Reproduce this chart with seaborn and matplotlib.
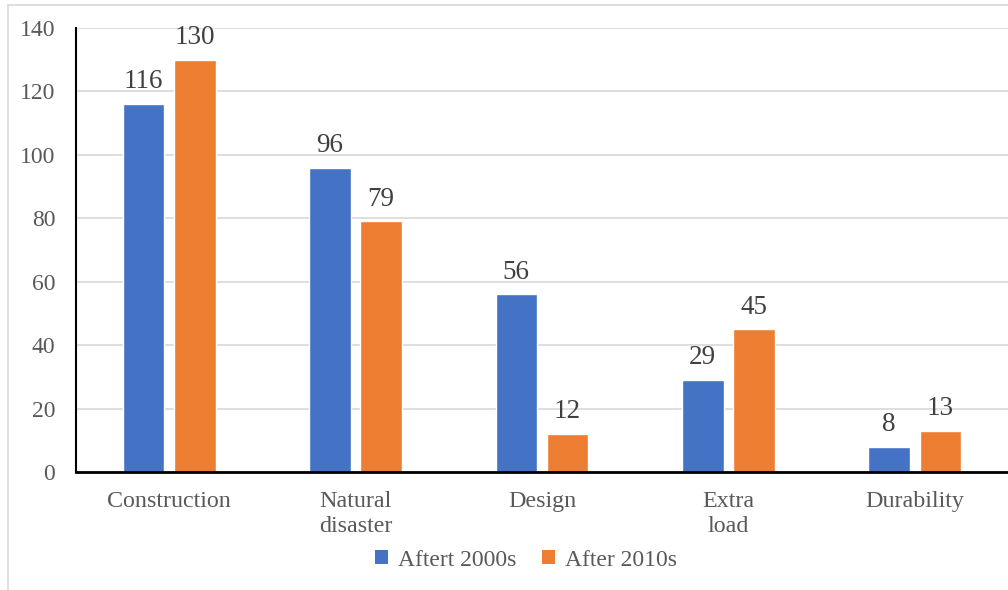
import matplotlib
matplotlib.use("Agg")
import matplotlib.pyplot as plt
import seaborn as sns
import pandas as pd
from matplotlib.lines import Line2D
from matplotlib.patches import Patch

categories = ["Construction", "Natural\ndisaster", "Design", "Extra\nload", "Durability"]
series_names = ["Aftert 2000s", "After 2010s"]
values_2000s = [116, 96, 56, 29, 8]
values_2010s = [130, 79, 12, 45, 13]
yticks = [0, 20, 40, 60, 80, 100, 120, 140]
colors = ["#4472C4", "#ED7D31"]

df = pd.DataFrame({
    "category": categories * 2,
    "series": [series_names[0]] * len(categories) + [series_names[1]] * len(categories),
    "value": values_2000s + values_2010s,
})

sns.set_theme(style="white")
plt.rcParams["font.family"] = ["Liberation Serif", "DejaVu Serif"]
text_color = "#595959"

fig = plt.figure(figsize=(10.08, 5.9), dpi=100)
ax = fig.add_axes([76 / 1008, 1 - 472 / 590, 1 - 76 / 1008, (472 - 28) / 590])

sns.barplot(data=df, x="category", y="value", hue="series", order=categories,
            hue_order=series_names, palette=colors, width=0.55, gap=0.19,
            saturation=1, ax=ax, legend=False)

for container in ax.containers:
    ax.bar_label(container, padding=7, fontsize=19.5, color="#404040")

ax.set_ylim(0, 140)
ax.set_xlim(-0.5, 4.5)
ax.set_yticks(yticks)
ax.yaxis.grid(True, color="#d9d9d9", linewidth=1.2)
ax.set_axisbelow(True)
ax.set_xlabel("")
ax.set_ylabel("")
for s in ["top", "right"]:
    ax.spines[s].set_visible(False)
ax.spines["left"].set_color("black")
ax.spines["left"].set_linewidth(1.5)
ax.spines["bottom"].set_color("black")
ax.spines["bottom"].set_linewidth(2)
ax.tick_params(axis="y", length=0, pad=15, labelsize=17, labelcolor=text_color)
ax.tick_params(axis="x", length=0, pad=14, labelsize=17.3, labelcolor=text_color)
for lbl in ax.get_xticklabels():
    lbl.set_linespacing(1.25)

handles = [Patch(facecolor=c, edgecolor="none") for c in colors]
fig.legend(handles, series_names, loc="center", bbox_to_anchor=(526 / 1008, 1 - 560 / 590),
           ncol=2, frameon=False, fontsize=17, labelcolor=text_color,
           handlelength=0.55, handleheight=0.55, handletextpad=0.4, columnspacing=1.1)

# outer chart border (partially visible)
fig.add_artist(Line2D([8 / 1008, 8 / 1008], [0, 1 - 5 / 590], color="#d9d9d9", lw=1.2,
                      transform=fig.transFigure))
fig.add_artist(Line2D([8 / 1008, 1], [1 - 5 / 590, 1 - 5 / 590], color="#d9d9d9", lw=1.2,
                      transform=fig.transFigure))

fig.savefig("out.png", dpi=100, facecolor="white")
